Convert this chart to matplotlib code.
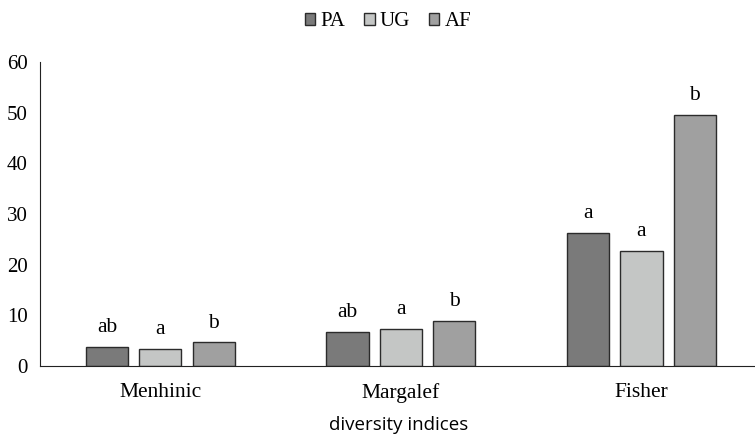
import numpy as np
import matplotlib.pyplot as plt

categories = ["Menhinic", "Margalef", "Fisher"]
series = ["PA", "UG", "AF"]
PA = [3.8, 6.7, 26.3]
UG = [3.4, 7.4, 22.8]
AF = [4.7, 8.9, 49.6]
PA_letters = ["ab", "ab", "a"]
UG_letters = ["a", "a", "a"]
AF_letters = ["b", "b", "b"]

colors = ["#7a7a7a", "#c4c6c5", "#a0a0a0"]
serif = "Liberation Serif"

fig = plt.figure(figsize=(7.55, 4.4), dpi=100)
ax = fig.add_axes([0.053, 0.168, 0.956, 0.691])

x = np.arange(len(categories))
step = 0.222
width = 0.175
data = [PA, UG, AF]
letters = [PA_letters, UG_letters, AF_letters]

for i, (name, vals, labs) in enumerate(zip(series, data, letters)):
    pos = x + (i - 1) * step
    ax.bar(pos, vals, width, color=colors[i], edgecolor="#2b2b2b",
           linewidth=1.0, label=name)
    for px, v, t in zip(pos, vals, labs):
        ax.annotate(t, (px, v), xytext=(0, 7), textcoords="offset points",
                    ha="center", va="bottom", fontsize=15.5, family=serif)

ax.set_xlim(-0.5, 2.5)
ax.set_ylim(0, 60)
ax.set_yticks(range(0, 61, 10))
ax.set_xticks(x)
ax.set_xticklabels(categories, fontsize=15.5, family=serif)
for lab in ax.get_yticklabels():
    lab.set_fontsize(15)
    lab.set_family(serif)
ax.tick_params(axis="y", length=0, pad=9)
ax.tick_params(axis="x", length=0, pad=12)
ax.spines["top"].set_visible(False)
ax.spines["right"].set_visible(False)
ax.spines["left"].set_color("#222222")
ax.spines["bottom"].set_color("#222222")

fig.text(0.528, 0.033, "diversity indices", ha="center", va="center",
         fontsize=13.5, family="Open Sans")

fig.legend(loc="upper center", bbox_to_anchor=(0.514, 1.015), ncol=3,
           frameon=False, prop={"family": serif, "size": 15},
           handlelength=0.5, handleheight=0.5, handletextpad=0.25,
           columnspacing=0.9)

fig.savefig("out.png", dpi=100)
